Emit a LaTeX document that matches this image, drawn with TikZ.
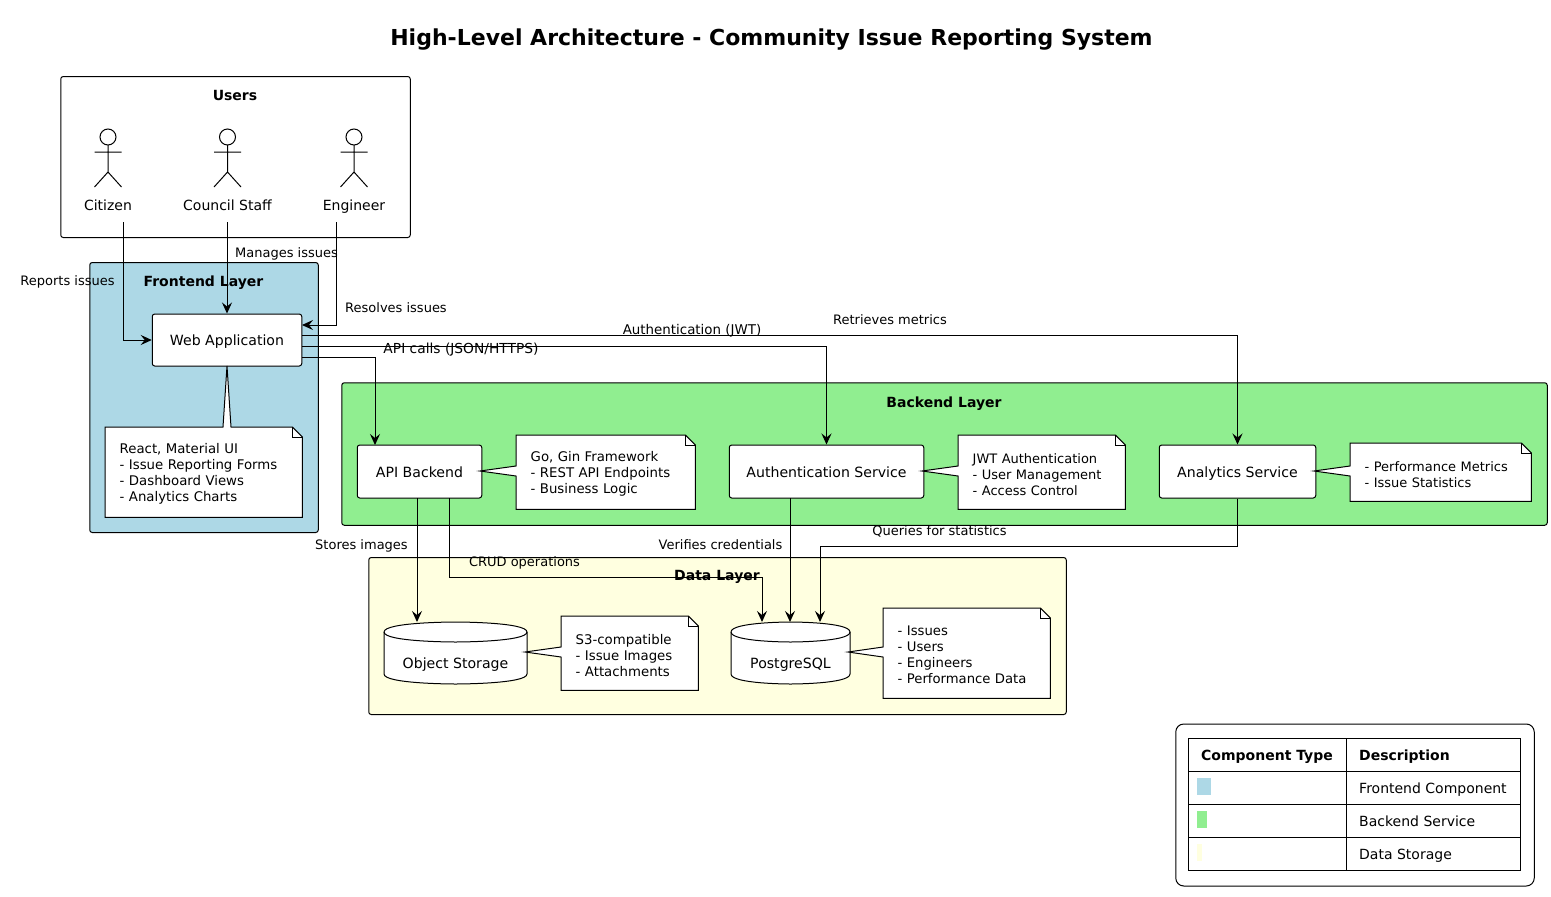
\documentclass[tikz,border=0pt]{standalone}
\usepackage{fontspec}
\setmainfont{DejaVu Sans}
\usetikzlibrary{calc,arrows.meta,backgrounds}
\pgfdeclarelayer{groups}
\pgfdeclarelayer{toptext}
\pgfsetlayers{groups,main,toptext}
\definecolor{fe}{HTML}{ADD8E6}
\definecolor{be}{HTML}{90EE90}
\definecolor{da}{HTML}{FFFFE0}
\tikzset{
  ln/.style={line width=1pt,draw=black},
  fixedtext/.style={text height=10.5pt,text depth=2.5pt,yshift=-0.5pt},
  grp/.style={ln,rounded corners=2.5pt,anchor=north west,inner sep=0pt},
  grptitle/.style={font=\fontsize{14}{16}\selectfont\bfseries,inner sep=0pt,text height=10.5pt,text depth=2.5pt,yshift=-1.5pt},
  box/.style={ln,fill=white,rounded corners=2.5pt,inner sep=0pt,font=\fontsize{14.1}{16}\selectfont,text height=13.5pt,text depth=2.5pt},
  boxtext/.style={inner sep=0pt,font=\fontsize{14.1}{16}\selectfont,fixedtext},
  lbl/.style={font=\fontsize{13}{15}\selectfont,inner sep=0pt,fixedtext},
  actorlbl/.style={font=\fontsize{14}{16}\selectfont,inner sep=0pt,fixedtext},
  cell/.style={font=\fontsize{14}{16}\selectfont,inner sep=0pt,anchor=west,text height=10.5pt,text depth=2.5pt,yshift=-1.5pt},
  cellb/.style={cell,font=\fontsize{14}{16}\selectfont\bfseries},
  arr/.style={ln,-{Stealth[length=11pt,width=10pt,inset=4pt]}},
  notetxt/.style 2 args={anchor=north west,minimum width=#1 pt,minimum height=#2 pt,text width=#1 pt-29pt,inner xsep=14.5pt,inner ysep=0pt,align=left,font=\fontsize{13.3}{16}\selectfont,yshift=-2pt},
}
% note text on the top layer (shifted 2 down): name, x, y, w, h, text
\newcommand\notetext[6]{\begin{pgfonlayer}{toptext}\node[notetxt={#4}{#5}] (#1) at (#2,#3) {#6};\end{pgfonlayer}}
% note outline with pointer on its left side: name, tip
\newcommand\noteleft[2]{%
  \draw[ln,fill=white] ($(#1.north west)+(0,-2)$) -- ($(#1.north east)+(-10,-2)$) -- ($(#1.north east)+(0,8)$) -- ($(#1.south east)+(0,-2)$) -- ($(#1.south west)+(0,-2)$)
    -- ($(#1.west |- #2)+(0,5)$) -- (#2) -- ($(#1.west |- #2)+(0,-5)$) -- cycle;
  \draw[ln] ($(#1.north east)+(-10,-2)$) -- ($(#1.north east)+(-10,8)$) -- ($(#1.north east)+(0,8)$);}
% note outline with pointer on its top side: name, tip
\newcommand\notetop[2]{%
  \draw[ln,fill=white] ($(#1.north west)+(0,-2)$) -- ($(#1.north -| #2)+(-4,-2)$) -- (#2) -- ($(#1.north -| #2)+(4,-2)$) -- ($(#1.north east)+(-10,-2)$) -- ($(#1.north east)+(0,8)$) -- ($(#1.south east)+(0,-2)$) -- ($(#1.south west)+(0,-2)$) -- cycle;
  \draw[ln] ($(#1.north east)+(-10,-2)$) -- ($(#1.north east)+(-10,8)$) -- ($(#1.north east)+(0,8)$);}
% actor: name, x, label
\newcommand\actorfig[3]{%
  \draw[ln] (#2,137) circle (8);
  \draw[ln] (#2,145) -- (#2,172) (#2-13.5,152) -- (#2+13.5,152) (#2-13.5,187) -- (#2,172) -- (#2+13.5,187);
  \node[actorlbl] (#1) at (#2,206) {#3};}
% database: name, x, y, w, h, label
\newcommand\dbshape[6]{%
  \draw[ln,fill=white] (#2,#3+10) .. controls (#2,#3) and (#2+#4/2,#3) .. (#2+#4/2,#3) .. controls (#2+#4/2,#3) and (#2+#4,#3) .. (#2+#4,#3+10)
    -- (#2+#4,#3+#5-10) .. controls (#2+#4,#3+#5) and (#2+#4/2,#3+#5) .. (#2+#4/2,#3+#5) .. controls (#2+#4/2,#3+#5) and (#2,#3+#5) .. (#2,#3+#5-10) -- cycle;
  \draw[ln] (#2,#3+10) .. controls (#2,#3+20) and (#2+#4/2,#3+20) .. (#2+#4/2,#3+20) .. controls (#2+#4/2,#3+20) and (#2+#4,#3+20) .. (#2+#4,#3+10);
  \node[anchor=north west,minimum width=#4 pt,minimum height=#5 pt,inner sep=0pt] (#1) at (#2,#3) {};
  \node[boxtext] (#1label) at (#2+#4/2,#3+42) {#6};}
\begin{document}
\begin{tikzpicture}[x=1pt,y=-1pt]
\useasboundingbox (0,0) rectangle (1551,897);
\begin{pgfonlayer}{groups}
\fill[white] (0,0) rectangle (1551,897);
\node[grp,fill=white,minimum width=349.5pt,minimum height=161pt] (users) at (60.25,76) {};
\node[grp,fill=fe,minimum width=228.5pt,minimum height=270pt] (frontend) at (89.25,262) {};
\node[grp,fill=be,minimum width=1205.5pt,minimum height=142.5pt] (backend) at (341.25,382.25) {};
\node[grp,fill=da,minimum width=697.5pt,minimum height=157pt] (datalayer) at (368.25,557) {};
\end{pgfonlayer}
\node[font=\fontsize{22}{26}\selectfont\bfseries,inner sep=0pt] (title) at (771.5,40) {High-Level Architecture - Community Issue Reporting System};

\node[grptitle] (userst) at (235,95) {Users};
\node[grptitle] (frontendt) at (203.5,281) {Frontend Layer};
\node[grptitle] (backendt) at (944,402) {Backend Layer};
\node[grptitle] (datat) at (717,575) {Data Layer};

\actorfig{citizen}{108}{Citizen}
\actorfig{staff}{227.5}{Council Staff}
\actorfig{engineer}{354}{Engineer}

\node[box,minimum width=149.5pt,minimum height=52pt] (web) at (227,340) {Web Application};
\node[box,minimum width=124.5pt,minimum height=53pt] (api) at (419.5,471.5) {API Backend};
\node[box,minimum width=194.5pt,minimum height=53pt] (auth) at (826.5,471.5) {Authentication Service};
\node[box,minimum width=156.5pt,minimum height=53pt] (analytics) at (1237.5,471.5) {Analytics Service};
\dbshape{objstore}{384}{622}{143}{62}{Object Storage}
\dbshape{postgres}{731}{622}{119}{62}{PostgreSQL}

% notes
\notetext{nweb}{105}{427}{197}{90}{React, Material UI\\- Issue Reporting Forms\\- Dashboard Views\\- Analytics Charts}
\notetext{napi}{516}{435}{179}{74}{Go, Gin Framework\\- REST API Endpoints\\- Business Logic}
\notetext{nauth}{958}{435}{167}{74}{\fontsize{13}{16}\selectfont JWT Authentication\\- User Management\\- Access Control}
\notetext{nana}{1350}{443}{181}{58}{\fontsize{13}{16}\selectfont - Performance Metrics\\- Issue Statistics}
\notetext{nobj}{561}{616}{137}{74}{S3-compatible\\- Issue Images\\- Attachments}
\notetext{npg}{883}{608}{167}{90}{\fontsize{13.2}{16}\selectfont - Issues\\- Users\\- Engineers\\- Performance Data}
\coordinate (tweb) at (227,366);
\coordinate (tapi) at (480,471);
\coordinate (tauth) at (922,471);
\coordinate (tana) at (1314,471);
\coordinate (tobj) at (525,652);
\coordinate (tpg) at (848,652);
\notetop{nweb}{tweb}
\noteleft{napi}{tapi}
\noteleft{nauth}{tauth}
\noteleft{nana}{tana}
\noteleft{nobj}{tobj}
\noteleft{npg}{tpg}

% connector ends
\coordinate (citizenout) at (123,222);
\coordinate (staffout) at (227,222);
\coordinate (engout) at (336,222);
\coordinate (webin) at (302,325);
\coordinate (weba) at (302,335);
\coordinate (webb) at (302,346);
\coordinate (webc) at (302,357);
\coordinate (apiin) at (375,445);
\coordinate (apia) at (417,498);
\coordinate (apib) at (449,498);
\coordinate (apibend) at (449,577);
\coordinate (pga) at (762,622);
\coordinate (objin) at (417,622);
\coordinate (autha) at (790,498);
\coordinate (pgb) at (790,622);
\coordinate (qbend) at (820,546);
\coordinate (pgc) at (820,622);

\draw[arr] (citizenout) |- (web.west);
\draw[arr] (staffout) -- (web.north -| staffout);
\draw[arr] (engout) |- (webin);
\draw[arr] (weba) -| (analytics.north);
\draw[arr] (webb) -| (auth.north);
\draw[arr] (webc) -| (apiin);
\draw[arr] (apia) -- (objin);
\draw[arr] (apib) -- (apibend) -| (pga);
\draw[arr] (autha) -- (pgb);
\draw[arr] (analytics.south) |- (qbend) -- (pgc);

\node[lbl] (l1) at (67.5,281) {Reports issues};
\node[lbl] (l2) at (286.5,253) {Manages issues};
\node[lbl] (l3) at (396,308) {Resolves issues};
\node[lbl,font=\fontsize{13.4}{15}\selectfont] (l4) at (692,330) {Authentication (JWT)};
\node[lbl] (l5) at (890,320) {Retrieves metrics};
\node[lbl,font=\fontsize{13.8}{15}\selectfont] (l6) at (461,349) {API calls (JSON/HTTPS)};
\node[lbl] (l7) at (361.5,545) {Stores images};
\node[lbl] (l8) at (524.5,562) {CRUD operations};
\node[lbl] (l9) at (720.5,545) {Verifies credentials};
\node[lbl] (l10) at (939.5,531) {Queries for statistics};

% legend
\node[ln,rounded corners=8pt,minimum width=358.5pt,minimum height=162pt,anchor=north west,inner sep=0pt] (legend) at (1175.25,723.5) {};
\node[ln,minimum width=332pt,minimum height=132pt,anchor=north west,inner sep=0pt] (table) at (1188,738) {};
\draw[ln] (1346,738) -- (1346,870) (1188,771) -- (1520,771) (1188,804) -- (1520,804) (1188,837) -- (1520,837);
\fill[fe] (1196.5,778) rectangle (1211,795);
\fill[be] (1196.5,811) rectangle (1206.5,828);
\fill[da] (1196.5,844) rectangle (1201.5,861);
\node[cellb] (h1) at (1201,755) {Component Type};
\node[cellb] (h2) at (1359,755) {Description};
\node[cell] (c1) at (1359,788) {Frontend Component};
\node[cell] (c2) at (1359,821) {Backend Service};
\node[cell] (c3) at (1359,854) {Data Storage};
\end{tikzpicture}
\end{document}
